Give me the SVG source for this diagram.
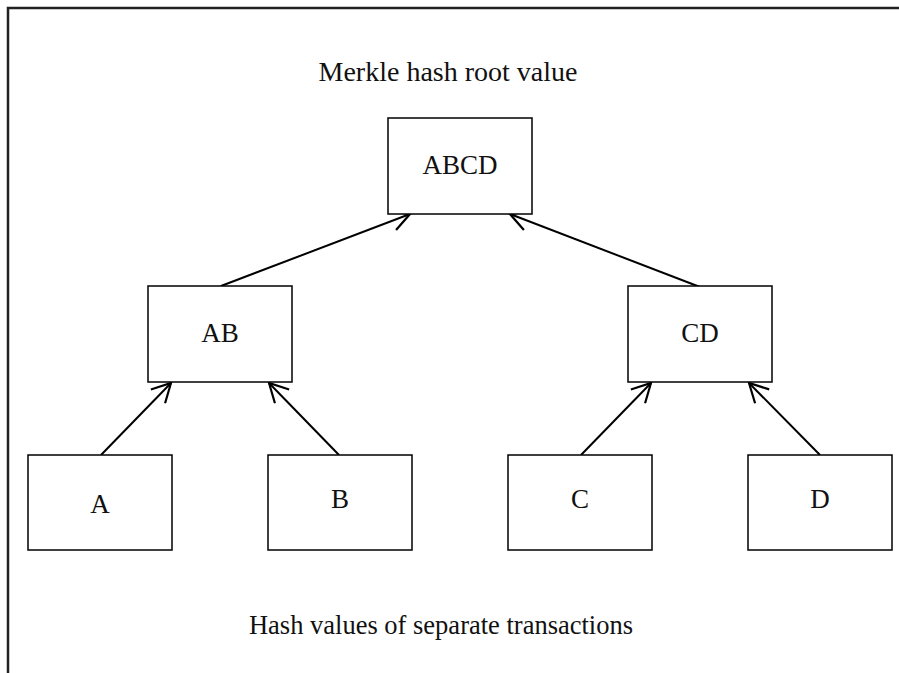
<svg xmlns="http://www.w3.org/2000/svg" width="899" height="673" viewBox="0 0 899 673">
<style>
.box{fill:#fff;stroke:#000;stroke-width:1.5}
.lbl{font-family:"Liberation Serif","Times New Roman",serif;font-size:27px;fill:#111;text-anchor:middle}
.cap{font-family:"Liberation Serif","Times New Roman",serif;font-size:26.5px;fill:#111;text-anchor:middle}
.con{stroke:#000;stroke-width:2;fill:none;marker-end:url(#arr)}
.frame{stroke:#222;stroke-width:2.5;fill:none}
</style>
<defs>
<marker id="arr" markerUnits="userSpaceOnUse" markerWidth="22" markerHeight="22" viewBox="0 0 20 20" refX="18" refY="10" orient="auto">
<path d="M1,1 L18,10 L1,19" fill="none" stroke="#000" stroke-width="2"/>
</marker>
</defs>
<rect width="899" height="673" fill="#fff"/>
<g id="frame">
<path class="frame" d="M899,8 L8,8 L8,673"/>
</g>
<g id="captions">
<text class="cap" x="448" y="81" style="font-size:28px">Merkle hash root value</text>
<text class="cap" x="441" y="634">Hash values of separate transactions</text>
</g>
<g id="connectors">
<line class="con" x1="221" y1="286" x2="410" y2="214"/>
<line class="con" x1="700" y1="287" x2="510" y2="214"/>
<line class="con" x1="101" y1="455" x2="171" y2="383"/>
<line class="con" x1="339" y1="455" x2="269" y2="383"/>
<line class="con" x1="581" y1="455" x2="651" y2="383"/>
<line class="con" x1="820" y1="455" x2="749" y2="383"/>
</g>
<g id="node-ABCD"><rect class="box" x="388" y="118" width="144" height="96"/><text class="lbl" x="460" y="174">ABCD</text></g>
<g id="node-AB"><rect class="box" x="148" y="286" width="144" height="96"/><text class="lbl" x="220" y="342">AB</text></g>
<g id="node-CD"><rect class="box" x="628" y="286" width="144" height="96"/><text class="lbl" x="700" y="342">CD</text></g>
<g id="node-A"><rect class="box" x="28" y="455" width="144" height="95"/><text class="lbl" x="100" y="513">A</text></g>
<g id="node-B"><rect class="box" x="268" y="455" width="144" height="95"/><text class="lbl" x="340" y="508">B</text></g>
<g id="node-C"><rect class="box" x="508" y="455" width="144" height="95"/><text class="lbl" x="580" y="508">C</text></g>
<g id="node-D"><rect class="box" x="748" y="455" width="144" height="95"/><text class="lbl" x="820" y="508">D</text></g>
</svg>
